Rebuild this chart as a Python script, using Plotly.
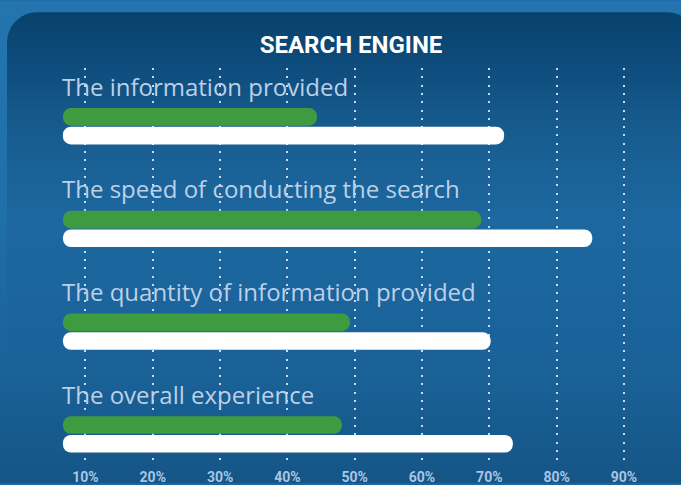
import base64
import plotly.graph_objects as go

# ---- data ----
categories = [
    "The information provided",
    "The speed of conducting the search",
    "The quantity of information provided",
    "The overall experience",
]
green_values = [44.4, 68.8, 49.3, 48.1]
white_values = [72.2, 85.3, 70.2, 73.5]
tick_values = [10, 20, 30, 40, 50, 60, 70, 80, 90]
tick_labels = ["10%", "20%", "30%", "40%", "50%", "60%", "70%", "80%", "90%"]
bar_origin = 6.65  # where the bars start on the percentage scale

# ---- layout constants ----
W, H = 681, 485
M_T, M_B = 68, 18
plot_h = H - M_T - M_B
GREEN = "#3f9b3f"
WHITE = "#ffffff"
BAR_W = 0.1715
HALF_SEP = 0.091

# background (gradient panel) as an SVG image
svg = f'''<svg xmlns="http://www.w3.org/2000/svg" width="{W}" height="{H}" viewBox="0 0 {W} {H}">
<defs>
<linearGradient id="o" gradientUnits="userSpaceOnUse" x1="0" y1="0" x2="0" y2="{H}">
<stop offset="0" stop-color="#2474b0"/>
<stop offset="0.42" stop-color="#2070aa"/>
<stop offset="0.78" stop-color="#1a6197"/>
<stop offset="1" stop-color="#145585"/>
</linearGradient>
<linearGradient id="p" gradientUnits="userSpaceOnUse" x1="0" y1="12" x2="0" y2="485">
<stop offset="0" stop-color="#07426b"/>
<stop offset="0.1" stop-color="#0d4b7b"/>
<stop offset="0.23" stop-color="#165a8c"/>
<stop offset="0.44" stop-color="#1d68a0"/>
<stop offset="0.62" stop-color="#1b649c"/>
<stop offset="0.78" stop-color="#1a6197"/>
<stop offset="1" stop-color="#145585"/>
</linearGradient>
</defs>
<rect width="{W}" height="{H}" fill="url(#o)"/>
<rect x="7" y="12" width="690" height="368" rx="30" ry="30" fill="url(#p)"/>
</svg>'''
svg_uri = "data:image/svg+xml;base64," + base64.b64encode(svg.encode()).decode()

fig = go.Figure()


def add_rounded_bar(values, color, offset):
    fig.add_trace(go.Bar(
        y=categories, x=[v - bar_origin for v in values], base=[bar_origin] * len(values),
        orientation="h", marker=dict(color=color, line=dict(width=0), cornerradius=9),
        width=BAR_W, offset=offset, hoverinfo="skip", showlegend=False,
    ))


add_rounded_bar(green_values, GREEN, -HALF_SEP - BAR_W / 2)
add_rounded_bar(white_values, WHITE, HALF_SEP - BAR_W / 2)

annotations = []
for cat in categories:
    annotations.append(dict(
        x=bar_origin, y=cat, xref="x", yref="y", text=cat, showarrow=False,
        xanchor="left", yanchor="middle", xshift=-3, yshift=40,
        font=dict(family="Open Sans", size=24, color="#bcd0e8", weight=400),
    ))

fig.update_layout(
    width=W, height=H,
    margin=dict(l=0, r=0, t=M_T, b=M_B, pad=0),
    barmode="overlay",
    paper_bgcolor="#1b65a0",
    plot_bgcolor="rgba(0,0,0,0)",
    title=dict(
        text="<b>SEARCH ENGINE</b>", x=351 / W, xanchor="center", xref="container",
        y=1 - 45 / H, yanchor="middle", yref="container",
        font=dict(family="Roboto", size=24, color="#ffffff"),
    ),
    xaxis=dict(
        range=[-2.70, 98.48], tickvals=tick_values, ticktext=tick_labels,
        showgrid=True, gridcolor="#c8dbf0", gridwidth=2, griddash="2px,6.3px",
        zeroline=False, showline=False, ticks="", ticklabelstandoff=2,
        tickfont=dict(family="Roboto", size=14, color="#a9c5e4", weight="bold"),
        fixedrange=True,
    ),
    yaxis=dict(
        type="category", categoryorder="array", categoryarray=categories,
        range=[3.298, -0.567], showticklabels=False, showgrid=False,
        zeroline=False, showline=False, fixedrange=True,
    ),
    annotations=annotations,
    images=[dict(
        source=svg_uri, xref="paper", yref="paper", x=0, y=1 + M_T / plot_h,
        sizex=1, sizey=H / plot_h, xanchor="left", yanchor="top",
        sizing="stretch", layer="below",
    )],
)

fig.write_html(
    "out.html",
    config={"displayModeBar": False},
    post_script="document.body.style.margin='0';document.body.style.overflow='hidden';",
)
